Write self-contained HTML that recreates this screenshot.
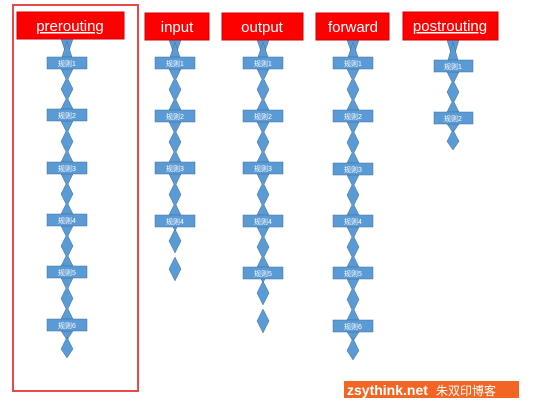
<!DOCTYPE html>
<html><head><meta charset="utf-8"><style>
html,body{margin:0;padding:0;background:#fff;width:554px;height:405px;overflow:hidden}
svg{display:block}
text{font-family:"Liberation Sans","Noto Sans CJK SC",sans-serif}
.h{fill:#fff;font-size:15px;text-anchor:middle}
.r{fill:#fff;font-size:7px;text-anchor:middle}
.hb{fill:#f00;stroke:#c00;stroke-width:1}
.rb{fill:#5b9bd5;stroke:#41719c;stroke-width:.5}
</style></head><body>
<svg id="s" width="554" height="405" xmlns="http://www.w3.org/2000/svg">
<g id="c"></g>
<rect x="13" y="5" width="125" height="386" fill="none" stroke="#e84a4a" stroke-width="2"/>
<rect class="hb" x="17" y="12" width="107" height="27"/><text class="h" x="70" y="31" text-decoration="underline">prerouting</text>
<rect class="hb" x="145" y="13" width="64" height="27"/><text class="h" x="177" y="32">input</text>
<rect class="hb" x="222" y="13" width="81" height="27"/><text class="h" x="262" y="32">output</text>
<rect class="hb" x="316" y="13" width="73" height="27"/><text class="h" x="353" y="32">forward</text>
<rect class="hb" x="403" y="12" width="95" height="28"/><text class="h" x="450" y="31" text-decoration="underline">postrouting</text>

<rect class="rb" x="47" y="57" width="40" height="12"/><text class="r" x="67" y="66">规则1</text>
<rect class="rb" x="47" y="109" width="40" height="12"/><text class="r" x="67" y="118">规则2</text>
<rect class="rb" x="47" y="162" width="40" height="12"/><text class="r" x="67" y="171">规则3</text>
<rect class="rb" x="47" y="214" width="40" height="12"/><text class="r" x="67" y="223">规则4</text>
<rect class="rb" x="47" y="266" width="40" height="12"/><text class="r" x="67" y="275">规则5</text>
<rect class="rb" x="47" y="319" width="40" height="12"/><text class="r" x="67" y="328">规则6</text>

<rect class="rb" x="155" y="57" width="40" height="12"/><text class="r" x="175" y="66">规则1</text>
<rect class="rb" x="155" y="110" width="40" height="12"/><text class="r" x="175" y="119">规则2</text>
<rect class="rb" x="155" y="162" width="40" height="12"/><text class="r" x="175" y="171">规则3</text>
<rect class="rb" x="155" y="215" width="40" height="12"/><text class="r" x="175" y="224">规则4</text>

<rect class="rb" x="243" y="57" width="40" height="12"/><text class="r" x="263" y="66">规则1</text>
<rect class="rb" x="243" y="110" width="40" height="12"/><text class="r" x="263" y="119">规则2</text>
<rect class="rb" x="243" y="162" width="40" height="12"/><text class="r" x="263" y="171">规则3</text>
<rect class="rb" x="243" y="215" width="40" height="12"/><text class="r" x="263" y="224">规则4</text>
<rect class="rb" x="243" y="267" width="40" height="12"/><text class="r" x="263" y="276">规则5</text>

<rect class="rb" x="333" y="57" width="40" height="12"/><text class="r" x="353" y="66">规则1</text>
<rect class="rb" x="333" y="110" width="40" height="12"/><text class="r" x="353" y="119">规则2</text>
<rect class="rb" x="333" y="163" width="40" height="12"/><text class="r" x="353" y="172">规则3</text>
<rect class="rb" x="333" y="215" width="40" height="12"/><text class="r" x="353" y="224">规则4</text>
<rect class="rb" x="333" y="267" width="40" height="12"/><text class="r" x="353" y="276">规则5</text>
<rect class="rb" x="333" y="320" width="40" height="12"/><text class="r" x="353" y="329">规则6</text>

<rect class="rb" x="434" y="60" width="39" height="12"/><text class="r" x="453" y="69">规则1</text>
<rect class="rb" x="434" y="112" width="39" height="12"/><text class="r" x="453" y="121">规则2</text>

<rect x="344" y="381" width="175" height="17" fill="#f26522"/>
<text x="347" y="395" fill="#fff" font-size="14" font-weight="bold">zsythink.net</text>
<text x="436" y="395" fill="#fff" font-size="12" font-family="'Noto Sans CJK SC',sans-serif">朱双印博客</text>
</svg>
<script>
var cols=[[67,[63,115,168,220,272,325],358,39],[175,[63,116,168,221],281,40],[263,[63,116,168,221,273],333,40],[353,[63,116,169,221,273,326],360,40],[453,[66,118],150,40]];
var g=document.getElementById('c'),ns='http://www.w3.org/2000/svg';
function poly(pts){var p=document.createElementNS(ns,'polygon');p.setAttribute('points',pts.map(function(a){return a.join(',')}).join(' '));p.setAttribute('fill','#5b9bd5');p.setAttribute('stroke','#41719c');p.setAttribute('stroke-width','0.5');g.appendChild(p);}
function dia(x,t,b){poly([[x,t],[x+6,(t+b)/2],[x,b],[x-6,(t+b)/2]]);}
cols.forEach(function(c){var x=c[0],ys=c[1];
 var prev=c[3];
 ys.forEach(function(y){var a=prev,b=y-6,m=(a+b)/2;
  if(b-a<25){poly([[x-6,a],[x+6,a],[x,b],[x-6,a]]);poly([[x,a+2],[x+5,b],[x-5,b]]);}
  else{var q=(b-a)/4;poly([[x-6,a],[x+6,a],[x+1,a+q],[x+6,m],[x+1,b-q],[x+6,b],[x-6,b],[x-1,b-q],[x-6,m],[x-1,a+q]]);}
  prev=y+6;});
 var a=prev,e=c[2];
 if(e-a>40){var h=(e-a-6)/2;dia(x,a+2,a+2+h);dia(x,e-h,e);poly([[x-2,a],[x+2,a],[x,a+4]]);}
 else{var q=Math.min(10,(e-a)/3),mid=(a+q+e)/2;
 poly([[x-6,a],[x+6,a],[x,a+q]]);
 poly([[x,a+q-3],[x+6,mid],[x,e],[x-6,mid]]);}
});
</script>
</body></html>
